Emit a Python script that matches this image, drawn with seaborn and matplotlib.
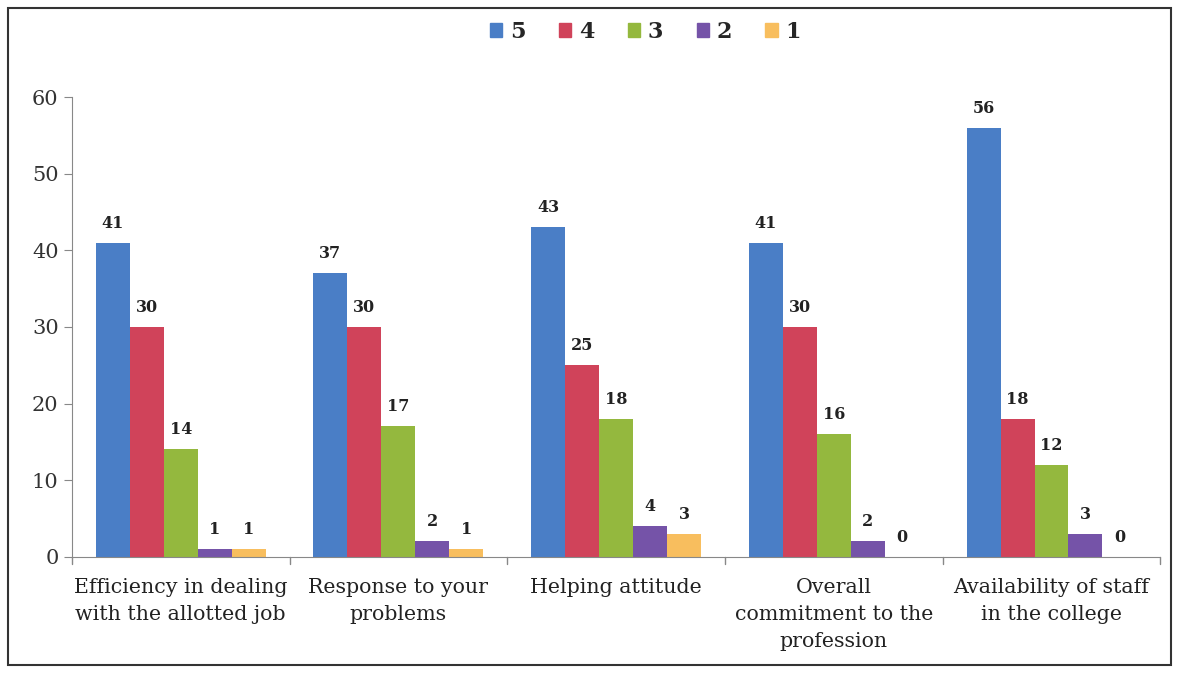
import matplotlib
matplotlib.use("Agg")
import matplotlib.pyplot as plt
import matplotlib.patches as mpatches
import seaborn as sns
import pandas as pd

categories = ["Efficiency in dealing\nwith the allotted job",
              "Response to your\nproblems",
              "Helping attitude",
              "Overall\ncommitment to the\nprofession",
              "Availability of staff\nin the college"]
ratings = ["5", "4", "3", "2", "1"]
r5 = [41, 37, 43, 41, 56]
r4 = [30, 30, 25, 30, 18]
r3 = [14, 17, 18, 16, 12]
r2 = [1, 2, 4, 2, 3]
r1 = [1, 1, 3, 0, 0]
colors = ["#4a7ec6", "#d0435a", "#94b83e", "#7553a8", "#f8be5e"]

rows = []
for rating, vals in zip(ratings, [r5, r4, r3, r2, r1]):
    for cat, v in zip(categories, vals):
        rows.append({"category": cat, "rating": rating, "count": v})
df = pd.DataFrame(rows)

sns.set_style("white")
plt.rcParams['font.family'] = ['DejaVu Serif']

fig = plt.figure(figsize=(11.78, 6.74), dpi=100)
ax = fig.add_axes([0.061, 0.174, 0.924, 0.682])

sns.barplot(data=df, x="category", y="count", hue="rating", hue_order=ratings,
            palette=colors, width=0.78, saturation=1, ax=ax, legend=False,
            linewidth=0)

for cont in ax.containers:
    ax.bar_label(cont, padding=8, fontsize=11.5, fontweight="bold", color="#222222")

ax.set_ylim(0, 60)
ax.set_xlim(-0.5, 4.5)
ax.set_yticks(range(0, 61, 10))
ax.set_xlabel("")
ax.set_ylabel("")
for s in ["top", "right"]:
    ax.spines[s].set_visible(False)
ax.spines["left"].set_color("#888888")
ax.spines["bottom"].set_color("#888888")
ax.tick_params(axis="y", length=6, color="#888888", labelsize=15, labelcolor="#333333", left=True)
ax.set_xticks(range(5))
ax.set_xticklabels(categories, fontsize=14.8, color="#222222", linespacing=1.55)
ax.tick_params(axis="x", length=0, pad=15)
for b in [-0.5, 0.5, 1.5, 2.5, 3.5, 4.5]:
    ax.plot([b, b], [0, -0.9], color="#888888", lw=1, clip_on=False)

handles = [mpatches.Patch(color=c, label=r) for c, r in zip(colors, ratings)]
fig.legend(handles=handles, loc="center", bbox_to_anchor=(0.548, 0.953), ncol=5,
           frameon=False, handlelength=0.55, handleheight=0.55, columnspacing=1.5,
           handletextpad=0.35, prop={"weight": "bold", "size": 16})

fig.patches.append(mpatches.Rectangle((0.007, 0.013), 0.987, 0.975, transform=fig.transFigure,
                                      fill=False, edgecolor="#333333", lw=1.5))

fig.savefig("out.png", dpi=100)
